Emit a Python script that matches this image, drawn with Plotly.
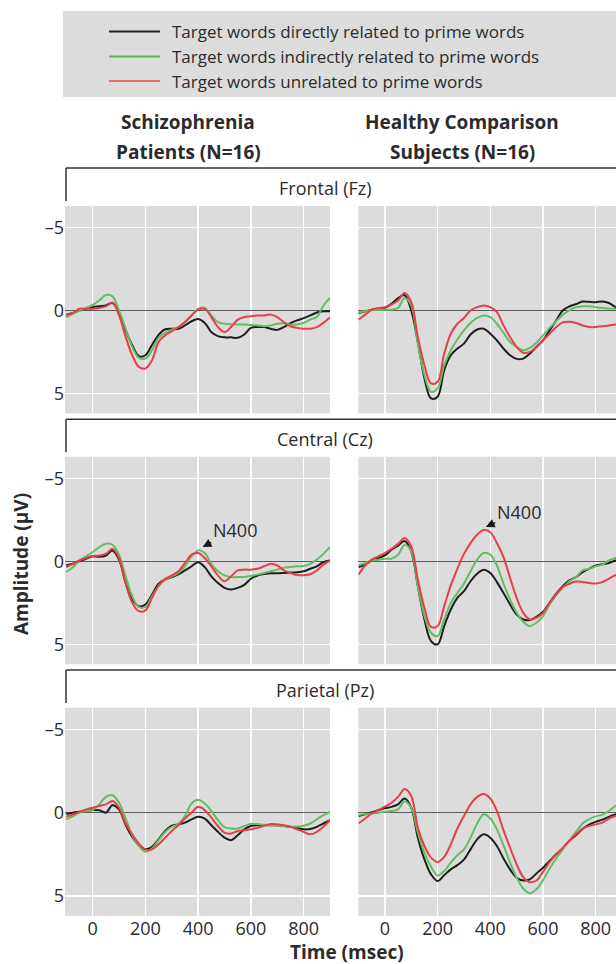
import plotly.graph_objects as go

W, H = 616, 964

time_ms = [-100, -75, -50, -25, 0, 25, 50, 75, 100, 125, 150, 175, 200, 225, 250, 275, 300,
           325, 350, 375, 400, 425, 450, 475, 500, 525, 550, 575, 600, 625, 650, 675, 700,
           725, 750, 775, 800, 825, 850, 875, 900]

series_names = ["Target words directly related to prime words",
                "Target words indirectly related to prime words",
                "Target words unrelated to prime words"]
group_lines = [["Schizophrenia", "Patients (N=16)"], ["Healthy Comparison", "Subjects (N=16)"]]
site_names = ["Frontal (Fz)", "Central (Cz)", "Parietal (Pz)"]
x_ticks = [0, 200, 400, 600, 800]
y_ticks = [-5, 0, 5]
y_ticklabels = ["\u20135", "0", "5"]

# Frontal, schizophrenia
fz_scz_direct = [0.25, 0.15, 0.0, -0.1, -0.2, -0.25, -0.3, -0.45, 0.1, 1.2, 2.1, 2.75, 2.7, 2.08, 1.47, 1.13, 1.1,
                 1.1, 0.9, 0.65, 0.52, 0.75, 1.3, 1.55, 1.62, 1.62, 1.65, 1.45, 1.05, 1.0, 1.0, 1.1, 1.17,
                 1.0, 0.77, 0.6, 0.46, 0.3, 0.12, 0.05, 0.05]
fz_scz_indirect = [0.4, 0.2, 0.0, -0.15, -0.34, -0.6, -0.93, -0.85, 0.0, 1.1, 2.2, 2.85, 2.9, 2.4, 1.65, 1.35, 1.15,
                   1.0, 0.7, 0.3, -0.1, -0.15, 0.3, 0.7, 0.8, 0.83, 0.85, 0.85, 0.87, 0.9, 0.95, 0.9, 0.8,
                   0.77, 0.85, 0.85, 0.75, 0.55, 0.4, -0.3, -0.75]
fz_scz_unrelated = [0.3, 0.15, -0.1, -0.1, -0.1, -0.15, -0.25, -0.48, 0.3, 1.6, 2.7, 3.4, 3.5, 3.0, 1.9, 1.5, 1.25,
                    1.0, 0.7, 0.3, -0.05, -0.1, 0.4, 1.0, 1.3, 1.0, 0.55, 0.4, 0.35, 0.3, 0.3, 0.25, 0.4,
                    0.7, 0.95, 1.05, 1.1, 1.1, 1.0, 0.75, 0.4]
# Frontal, healthy
fz_hc_direct = [0.16, 0.05, -0.05, -0.1, -0.16, -0.4, -0.75, -0.92, 0.0, 1.9, 4.1, 5.3, 5.2, 3.6, 2.7, 2.3, 2.0,
                1.45, 1.15, 1.1, 1.4, 1.8, 2.3, 2.7, 2.92, 2.9, 2.6, 2.2, 1.8, 1.2, 0.6, 0.0, -0.25,
                -0.38, -0.54, -0.52, -0.5, -0.54, -0.45, -0.2, 0.0]
fz_hc_indirect = [0.1, 0.05, -0.02, -0.04, -0.04, -0.05, -0.15, -0.75, -0.3, 2.0, 3.9, 4.9, 4.7, 3.3, 2.4, 1.75, 1.2,
                  0.75, 0.45, 0.3, 0.4, 0.8, 1.35, 1.9, 2.2, 2.4, 2.25, 1.95, 1.5, 1.05, 0.65, 0.25, 0.0,
                  -0.2, -0.25, -0.25, -0.2, -0.15, -0.12, -0.1, -0.1]
fz_hc_unrelated = [0.56, 0.25, -0.05, -0.15, -0.2, -0.35, -0.6, -1.05, -0.5, 1.6, 3.3, 4.4, 4.3, 2.6, 1.4, 0.8, 0.45,
                   0.0, -0.2, -0.3, -0.2, 0.1, 0.9, 1.6, 2.2, 2.55, 2.5, 2.2, 1.8, 1.4, 1.0, 0.72, 0.68,
                   0.75, 0.9, 1.0, 1.0, 0.95, 0.9, 0.84, 0.8]
# Central, schizophrenia
cz_scz_direct = [0.24, 0.15, 0.0, -0.15, -0.3, -0.27, -0.35, -0.65, -0.1, 1.3, 2.3, 2.7, 2.6, 2.0, 1.35, 1.1, 0.95,
                 0.78, 0.55, 0.3, 0.05, 0.35, 0.9, 1.3, 1.6, 1.7, 1.6, 1.42, 1.05, 0.85, 0.77, 0.72, 0.72,
                 0.7, 0.68, 0.66, 0.6, 0.45, 0.3, 0.05, -0.05]
cz_scz_indirect = [0.64, 0.35, -0.05, -0.3, -0.56, -0.85, -1.06, -1.0, -0.4, 0.9, 2.1, 2.75, 2.75, 2.1, 1.5, 1.1, 0.9,
                   0.7, 0.3, -0.3, -0.66, -0.5, 0.15, 0.6, 0.85, 0.95, 0.95, 0.94, 0.87, 0.8, 0.7, 0.6, 0.5,
                   0.38, 0.34, 0.3, 0.28, 0.15, -0.1, -0.45, -0.86]
cz_scz_unrelated = [0.34, 0.15, -0.05, -0.2, -0.32, -0.35, -0.45, -0.75, -0.2, 1.3, 2.5, 3.0, 2.95, 2.2, 1.45, 1.05, 0.85,
                    0.6, 0.1, -0.4, -0.5, -0.2, 0.3, 0.85, 1.2, 0.9, 0.55, 0.5, 0.5, 0.45, 0.3, 0.15, 0.25,
                    0.54, 0.7, 0.82, 0.84, 0.78, 0.55, 0.2, -0.05]
# Central, healthy
cz_hc_direct = [0.34, 0.2, -0.05, -0.2, -0.36, -0.7, -0.95, -1.22, -0.6, 1.5, 3.5, 4.8, 5.0, 3.9, 2.9, 2.2, 1.8,
                1.2, 0.75, 0.5, 0.7, 1.25, 1.9, 2.6, 3.2, 3.5, 3.54, 3.35, 3.04, 2.5, 1.95, 1.5, 1.15,
                0.95, 0.65, 0.45, 0.25, 0.18, 0.1, -0.05, -0.1]
cz_hc_indirect = [0.24, 0.1, -0.05, -0.1, -0.16, -0.16, -0.4, -1.0, -0.6, 1.5, 3.3, 4.3, 4.5, 3.5, 2.5, 1.9, 1.35,
                  0.6, -0.1, -0.5, -0.4, 0.25, 1.35, 2.3, 3.1, 3.64, 3.9, 3.7, 3.3, 2.6, 2.0, 1.6, 1.2,
                  0.95, 0.55, 0.45, 0.3, 0.2, -0.05, -0.2, -0.3]
cz_hc_unrelated = [0.8, 0.25, -0.1, -0.3, -0.5, -0.75, -1.05, -1.4, -0.9, 1.1, 2.8, 3.95, 3.9, 2.7, 1.45, 0.45, -0.45,
                   -1.1, -1.6, -1.88, -1.75, -1.1, -0.25, 1.0, 2.2, 3.1, 3.5, 3.4, 3.1, 2.5, 2.0, 1.55, 1.35,
                   1.22, 1.25, 1.3, 1.34, 1.25, 1.05, 0.84, 0.75]
# Parietal, schizophrenia
pz_scz_direct = [0.08, 0.0, -0.05, -0.1, -0.16, -0.15, 0.0, -0.45, -0.2, 0.75, 1.45, 1.95, 2.2, 2.05, 1.6, 1.1, 0.78,
                 0.7, 0.6, 0.4, 0.25, 0.35, 0.75, 1.15, 1.5, 1.65, 1.35, 1.0, 0.8, 0.75, 0.75, 0.75, 0.76,
                 0.8, 0.85, 0.92, 1.0, 0.98, 0.85, 0.65, 0.45]
pz_scz_indirect = [0.4, 0.2, 0.0, -0.1, -0.16, -0.5, -0.95, -1.05, -0.6, 0.35, 1.35, 2.0, 2.34, 2.15, 1.65, 1.15, 0.85,
                   0.68, 0.2, -0.55, -0.77, -0.55, -0.1, 0.45, 0.87, 0.95, 0.95, 0.8, 0.67, 0.68, 0.72, 0.75, 0.77,
                   0.8, 0.85, 0.83, 0.78, 0.65, 0.4, 0.15, -0.05]
pz_scz_unrelated = [0.24, 0.1, -0.05, -0.2, -0.3, -0.4, -0.5, -0.7, -0.3, 0.65, 1.3, 1.85, 2.2, 2.2, 1.9, 1.5, 1.1,
                    0.75, 0.35, 0.0, -0.35, -0.15, 0.3, 0.8, 1.2, 1.25, 1.1, 1.05, 1.0, 0.9, 0.78, 0.68, 0.7,
                    0.76, 0.85, 1.0, 1.15, 1.3, 1.15, 0.85, 0.45]
# Parietal, healthy
pz_hc_direct = [0.2, 0.1, -0.02, -0.15, -0.26, -0.35, -0.5, -0.85, -0.3, 1.5, 2.8, 3.7, 4.1, 3.75, 3.4, 3.15, 2.82,
                2.2, 1.6, 1.3, 1.5, 2.0, 2.75, 3.4, 3.9, 4.07, 4.0, 3.65, 3.3, 2.9, 2.5, 2.15, 1.68,
                1.35, 0.98, 0.72, 0.55, 0.42, 0.25, 0.1, 0.0]
pz_hc_indirect = [0.14, 0.1, 0.05, 0.0, -0.06, -0.1, -0.2, -0.67, -0.3, 1.2, 2.4, 3.25, 3.77, 3.5, 3.0, 2.55, 2.2,
                  1.5, 0.65, 0.1, 0.35, 1.0, 1.95, 3.0, 3.9, 4.55, 4.84, 4.6, 4.05, 3.35, 2.75, 2.2, 1.68,
                  1.15, 0.65, 0.38, 0.22, 0.12, -0.1, -0.4, -0.6]
pz_hc_unrelated = [0.65, 0.35, 0.05, -0.15, -0.36, -0.6, -0.95, -1.42, -1.0, 0.9, 2.0, 2.7, 2.96, 2.65, 1.9, 0.95, 0.2,
                   -0.5, -0.95, -1.12, -0.85, -0.1, 1.05, 2.1, 3.1, 3.87, 4.17, 4.07, 3.55, 2.97, 2.5, 2.1, 1.68,
                   1.3, 0.95, 0.8, 0.7, 0.6, 0.35, 0.2, 0.1]

panels = [
    [(fz_scz_direct, fz_scz_indirect, fz_scz_unrelated), (fz_hc_direct, fz_hc_indirect, fz_hc_unrelated)],
    [(cz_scz_direct, cz_scz_indirect, cz_scz_unrelated), (cz_hc_direct, cz_hc_indirect, cz_hc_unrelated)],
    [(pz_scz_direct, pz_scz_indirect, pz_scz_unrelated), (pz_hc_direct, pz_hc_indirect, pz_hc_unrelated)],
]

colors = ["#1e1e1e", "#62bd62", "#e5404a"]
legend_colors = ["#222222", "#55bb44", "#e8735a"]
FONT = "Open Sans"
TXT = "#2b2b2b"


def px_x(p):
    return p / W


def px_y(p):
    return 1 - p / H


row_px = [(206, 413.3), (456.7, 664.3), (707.7, 916)]
col_px = [(65, 330), (358.3, 616)]
x_ranges = [[-105, 900], [-101, 877]]
y_range = [6.2, -6.3]

fig = go.Figure()
layout = {}
shapes = []
annotations = []

idx = 0
for r in range(3):
    for c in range(2):
        idx += 1
        xa = "x" if idx == 1 else f"x{idx}"
        ya = "y" if idx == 1 else f"y{idx}"
        for s in range(3):
            fig.add_trace(go.Scatter(
                x=time_ms, y=panels[r][c][s], mode="lines",
                line=dict(color=colors[s], width=2, shape="spline", smoothing=1.0),
                xaxis=xa, yaxis=ya, showlegend=False, hoverinfo="skip"))
        xkey = "xaxis" if idx == 1 else f"xaxis{idx}"
        ykey = "yaxis" if idx == 1 else f"yaxis{idx}"
        layout[xkey] = dict(
            domain=[px_x(col_px[c][0]), min(1.0, px_x(col_px[c][1]))],
            range=x_ranges[c], anchor=ya,
            tickmode="array", tickvals=x_ticks, ticktext=[str(v) for v in x_ticks],
            showticklabels=(r == 2), ticks="", showgrid=True, gridcolor="white", gridwidth=1.5,
            zeroline=False, showline=False,
            tickfont=dict(family=FONT, size=18, color=TXT))
        layout[ykey] = dict(
            domain=[px_y(row_px[r][1]), px_y(row_px[r][0])],
            range=y_range, anchor=xa,
            tickmode="array", tickvals=y_ticks, ticktext=y_ticklabels,
            showticklabels=(c == 0), ticks="", showgrid=True, gridcolor="white", gridwidth=1.5,
            zeroline=True, zerolinecolor="#5a5a5a", zerolinewidth=1.5, showline=False,
            tickfont=dict(family=FONT, size=18, color=TXT))

# header bands for each site
header_top = [168, 419.3, 670]
for r in range(3):
    yt = header_top[r]
    shapes.append(dict(type="line", xref="paper", yref="paper",
                       x0=px_x(66), x1=1.0, y0=px_y(yt), y1=px_y(yt),
                       line=dict(color="#333333", width=1.5)))
    shapes.append(dict(type="line", xref="paper", yref="paper",
                       x0=px_x(66), x1=px_x(66), y0=px_y(yt), y1=px_y(yt + 33),
                       line=dict(color="#333333", width=1.5)))
    annotations.append(dict(text=site_names[r], xref="paper", yref="paper",
                            x=px_x(325), y=px_y(yt + 20), showarrow=False,
                            xanchor="center", yanchor="middle",
                            font=dict(family=FONT, size=18, color=TXT)))

# legend box
shapes.append(dict(type="rect", xref="paper", yref="paper",
                   x0=px_x(63), x1=1.0, y0=px_y(97), y1=px_y(11),
                   fillcolor="#dcdcdd", line=dict(width=0), layer="below"))
leg_y = [31.5, 56.5, 81]
for s in range(3):
    shapes.append(dict(type="line", xref="paper", yref="paper",
                       x0=px_x(109), x1=px_x(160), y0=px_y(leg_y[s]), y1=px_y(leg_y[s]),
                       line=dict(color=legend_colors[s], width=2)))
    annotations.append(dict(text=series_names[s], xref="paper", yref="paper",
                            x=px_x(170), y=px_y(leg_y[s]), showarrow=False,
                            xanchor="left", yanchor="middle",
                            font=dict(family=FONT, size=17, color=TXT)))

# column headers (two lines each)
for c, xc in enumerate([188, 462]):
    for k, yc in enumerate([122, 152]):
        annotations.append(dict(text="<b>" + group_lines[c][k] + "</b>",
                                xref="paper", yref="paper", x=px_x(xc), y=px_y(yc),
                                showarrow=False, xanchor="center", yanchor="middle",
                                font=dict(family=FONT, size=19, color=TXT)))

# axis titles
annotations.append(dict(text="<b>Amplitude (\u03bcV)</b>", xref="paper", yref="paper",
                        x=px_x(21), y=px_y(564), showarrow=False, textangle=-90,
                        xanchor="center", yanchor="middle",
                        font=dict(family=FONT, size=19, color=TXT)))
annotations.append(dict(text="<b>Time (msec)</b>", xref="paper", yref="paper",
                        x=px_x(347), y=px_y(952), showarrow=False,
                        xanchor="center", yanchor="middle",
                        font=dict(family=FONT, size=19, color=TXT)))

# N400 markers
annotations.append(dict(text="N400", x=417, y=-0.86, xref="x3", yref="y3",
                        showarrow=True, ax=32, ay=-17, arrowhead=2, arrowsize=1.1,
                        arrowwidth=1.6, arrowcolor="#1a1a1a",
                        font=dict(family=FONT, size=18, color=TXT)))
annotations.append(dict(text="N400", x=383, y=-2.07, xref="x4", yref="y4",
                        showarrow=True, ax=33, ay=-15, arrowhead=2, arrowsize=1.1,
                        arrowwidth=1.6, arrowcolor="#1a1a1a",
                        font=dict(family=FONT, size=18, color=TXT)))

fig.update_layout(
    width=W, height=H, margin=dict(l=0, r=0, t=0, b=0),
    paper_bgcolor="white", plot_bgcolor="#dcdcdd",
    shapes=shapes, annotations=annotations, showlegend=False,
    **layout)

fig.write_html("out.html",
               config={"displayModeBar": False, "staticPlot": True},
               post_script="document.body.style.margin='0';document.body.style.overflow='hidden';")
